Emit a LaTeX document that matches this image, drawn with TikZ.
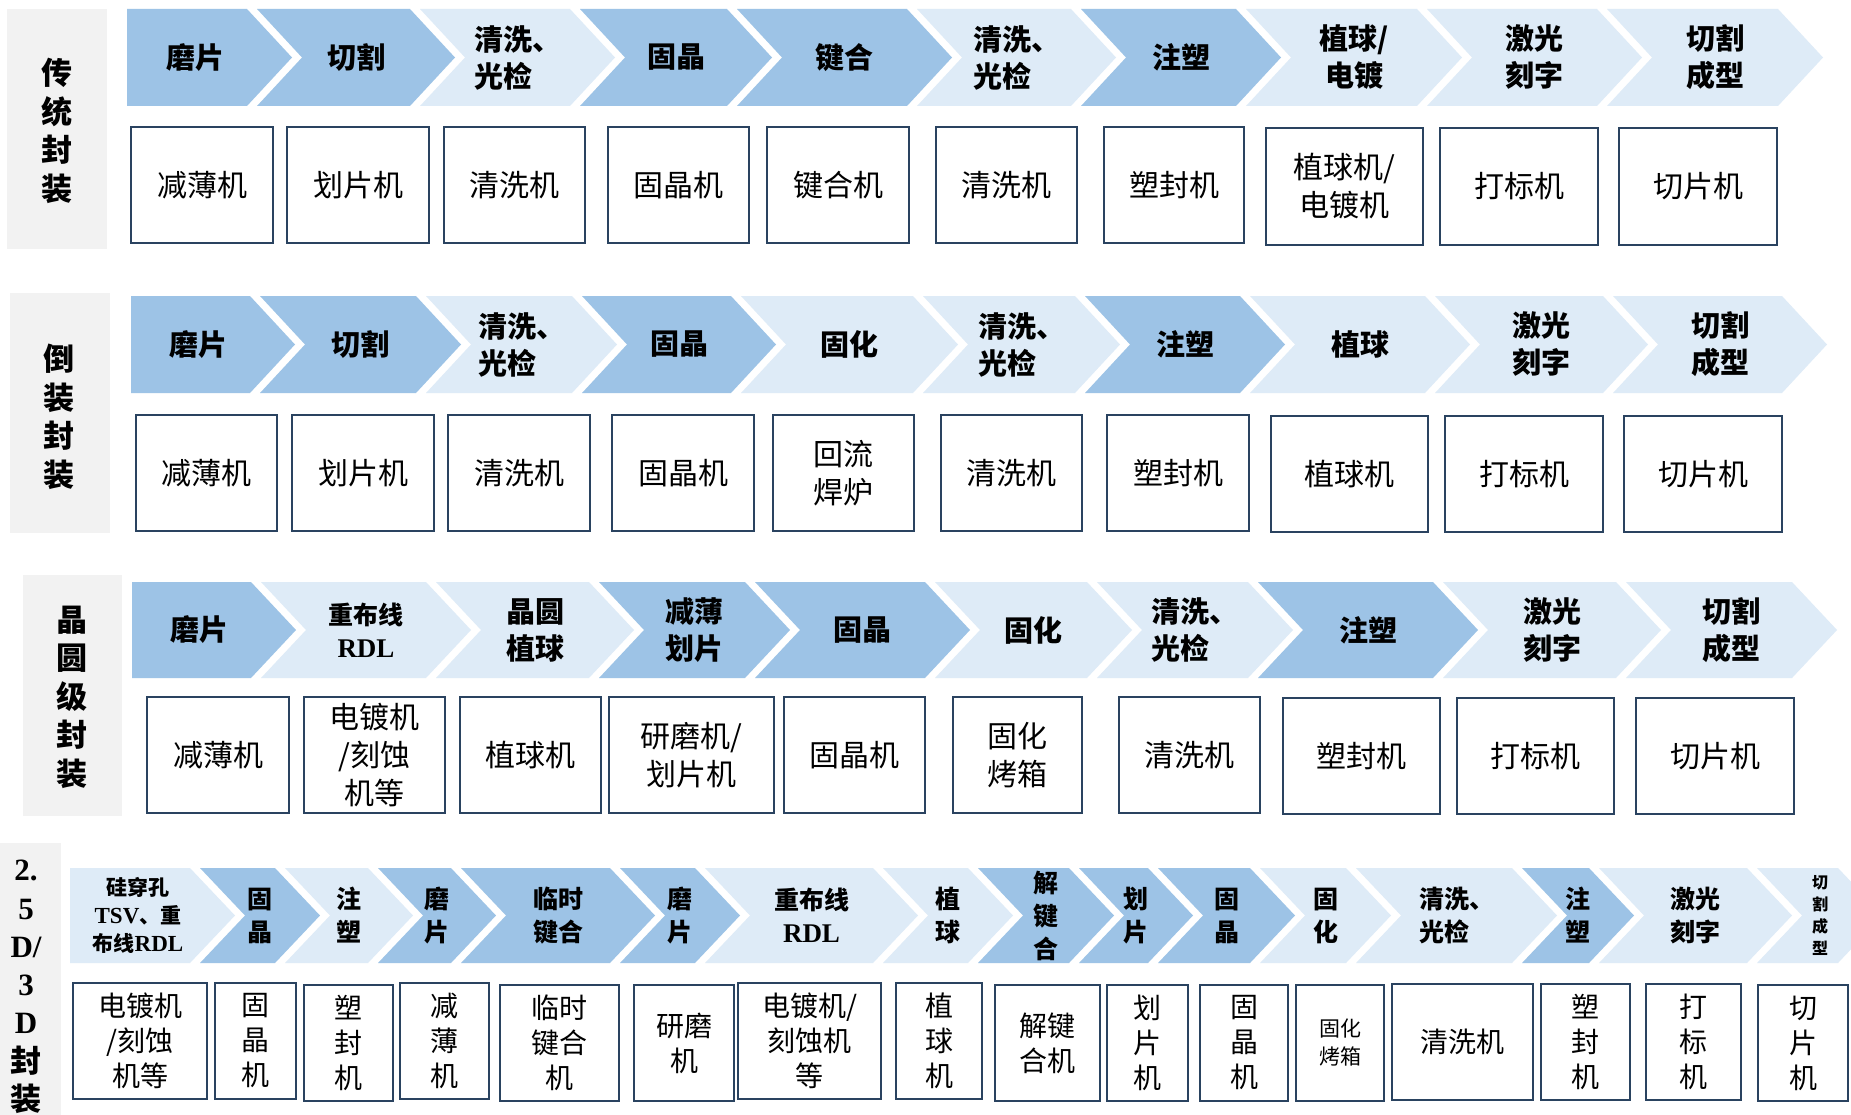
\documentclass[tikz,border=0pt]{standalone}
\usepackage{fontspec}
\setmainfont{Noto Sans CJK SC}
\newfontfamily\lser{Liberation Serif}[UprightFont={* Bold},BoldFont={* Bold}]
\definecolor{dk}{HTML}{9DC3E6}
\definecolor{lt}{HTML}{DEEBF7}
\definecolor{gr}{HTML}{F2F2F2}
\definecolor{bd}{HTML}{2A4360}
\tikzset{
 chtext/.style={font=\bfseries\fontsize{29}{37}\selectfont, align=center, inner sep=0pt},
 chsmall/.style={font=\bfseries\fontsize{25}{33}\selectfont},
 boxst/.style={draw=bd, line width=2.6pt, fill=white, align=center, inner sep=0pt, font=\fontsize{30}{38}\selectfont},
 boxsm/.style={font=\fontsize{28}{35}\selectfont},
 lbl/.style={font=\bfseries\fontsize{31}{38.5}\selectfont, align=center, inner sep=0pt},
 graybox/.style={fill=gr},
}
\newcommand\chdep{45}
% name, opts, L, R, top, bot, color, text
\newcommand\chevn[8]{%
 \fill[#7] (#3,#5) -- (#4,#5) -- ({#4+\chdep},{(#5+#6)/2}) -- (#4,#6) -- (#3,#6) -- ({#3+\chdep},{(#5+#6)/2}) -- cycle;
 \node[chtext,#2] (#1) at ({(#3+\chdep+#4)/2},{(#5+#6)/2}) {#8};}
\newcommand\chevf[8]{%
 \fill[#7] (#3,#5) -- (#4,#5) -- ({#4+\chdep},{(#5+#6)/2}) -- (#4,#6) -- (#3,#6) -- cycle;
 \node[chtext,#2] (#1) at ({(#3+#4)/2+8},{(#5+#6)/2}) {#8};}
% name, opts, x1, x2, y1, y2, text
\newcommand\mybox[7]{%
 \node[boxst, minimum width={#4-#3}, minimum height={#6-#5}, #2] (#1) at ({(#3+#4)/2},{(#5+#6)/2}) {#7};}
\newcommand\rdl{{\lser\fontsize{27}{33}\selectfont RDL}}
\begin{document}
\begin{tikzpicture}[x=1pt,y=-1pt]
\useasboundingbox (0,0) rectangle (1851,1115);
\clip (0,0) rectangle (1851,1115);
\fill[white] (0,0) rectangle (1851,1115);

% ---------------- Row 1 ----------------
\fill[graybox] (7,9) rectangle (107,249);
\node[lbl] (l1) at (57,131) {传\\统\\封\\装};
\chevf{r1c1}{}{127}{247}{9}{106}{dk}{磨片}
\chevn{r1c2}{}{257}{410}{9}{106}{dk}{切割}
\chevn{r1c3}{align=left}{420}{570}{9}{106}{lt}{清洗、\\光检}
\chevn{r1c4}{}{580}{727}{9}{106}{dk}{固晶}
\chevn{r1c5}{}{737}{907}{9}{106}{dk}{键合}
\chevn{r1c6}{align=left}{917}{1071}{9}{106}{lt}{清洗、\\光检}
\chevn{r1c7}{}{1081}{1236}{9}{106}{dk}{注塑}
\chevn{r1c8}{}{1246}{1417}{9}{106}{lt}{植球/\\电镀}
\chevn{r1c9}{}{1427}{1597}{9}{106}{lt}{激光\\刻字}
\chevn{r1c10}{}{1607}{1778}{9}{106}{lt}{切割\\成型}
\mybox{r1b1}{}{131}{273}{127}{243}{减薄机}
\mybox{r1b2}{}{287}{429}{127}{243}{划片机}
\mybox{r1b3}{}{444}{585}{127}{243}{清洗机}
\mybox{r1b4}{}{608}{749}{127}{243}{固晶机}
\mybox{r1b5}{}{767}{909}{127}{243}{键合机}
\mybox{r1b6}{}{936}{1077}{127}{243}{清洗机}
\mybox{r1b7}{}{1104}{1244}{127}{243}{塑封机}
\mybox{r1b8}{}{1266}{1423}{128}{245}{植球机/\\电镀机}
\mybox{r1b9}{}{1440}{1598}{128}{245}{打标机}
\mybox{r1b10}{}{1619}{1777}{128}{245}{切片机}

% ---------------- Row 2 ----------------
\fill[graybox] (10,293) rectangle (110,533);
\node[lbl] (l2) at (59,417) {倒\\装\\封\\装};
\chevf{r2c1}{}{131}{250}{296}{393}{dk}{磨片}
\chevn{r2c2}{}{260}{416}{296}{393}{dk}{切割}
\chevn{r2c3}{align=left}{426}{572}{296}{393}{lt}{清洗、\\光检}
\chevn{r2c4}{}{582}{731}{296}{393}{dk}{固晶}
\chevn{r2c5}{}{741}{913}{296}{393}{lt}{固化}
\chevn{r2c6}{align=left}{923}{1075}{296}{393}{lt}{清洗、\\光检}
\chevn{r2c7}{}{1085}{1240}{296}{393}{dk}{注塑}
\chevn{r2c8}{}{1250}{1425}{296}{393}{lt}{植球}
\chevn{r2c9}{}{1435}{1603}{296}{393}{lt}{激光\\刻字}
\chevn{r2c10}{}{1613}{1782}{296}{393}{lt}{切割\\成型}
\mybox{r2b1}{}{136}{277}{415}{531}{减薄机}
\mybox{r2b2}{}{292}{434}{415}{531}{划片机}
\mybox{r2b3}{}{448}{590}{415}{531}{清洗机}
\mybox{r2b4}{}{612}{754}{415}{531}{固晶机}
\mybox{r2b5}{}{773}{914}{415}{531}{回流\\焊炉}
\mybox{r2b6}{}{941}{1082}{415}{531}{清洗机}
\mybox{r2b7}{}{1107}{1249}{415}{531}{塑封机}
\mybox{r2b8}{}{1271}{1428}{416}{532}{植球机}
\mybox{r2b9}{}{1445}{1603}{416}{532}{打标机}
\mybox{r2b10}{}{1624}{1782}{416}{532}{切片机}

% ---------------- Row 3 ----------------
\fill[graybox] (23,575) rectangle (122,816);
\node[lbl] (l3) at (72,697) {晶\\圆\\级\\封\\装};
\chevf{r3c1}{}{132}{251}{582}{678}{dk}{磨片}
\chevn{r3c2}{chsmall}{261}{426}{582}{678}{lt}{重布线\\\rdl}
\chevn{r3c3}{}{436}{589}{582}{678}{lt}{晶圆\\植球}
\chevn{r3c4}{}{599}{745}{582}{678}{dk}{减薄\\划片}
\chevn{r3c5}{}{755}{925}{582}{678}{dk}{固晶}
\chevn{r3c6}{}{935}{1087}{582}{678}{lt}{固化}
\chevn{r3c7}{align=left}{1097}{1248}{582}{678}{lt}{清洗、\\光检}
\chevn{r3c8}{}{1258}{1433}{582}{678}{dk}{注塑}
\chevn{r3c9}{}{1443}{1616}{582}{678}{lt}{激光\\刻字}
\chevn{r3c10}{}{1626}{1792}{582}{678}{lt}{切割\\成型}
\mybox{r3b1}{}{147}{289}{697}{813}{减薄机}
\mybox{r3b2}{}{304}{445}{697}{813}{电镀机\\/刻蚀\\机等}
\mybox{r3b3}{}{460}{601}{697}{813}{植球机}
\mybox{r3b4}{}{609}{774}{697}{813}{研磨机/\\划片机}
\mybox{r3b5}{}{784}{925}{697}{813}{固晶机}
\mybox{r3b6}{}{953}{1082}{697}{813}{固化\\烤箱}
\mybox{r3b7}{}{1119}{1260}{697}{813}{清洗机}
\mybox{r3b8}{}{1283}{1440}{698}{814}{塑封机}
\mybox{r3b9}{}{1457}{1614}{698}{814}{打标机}
\mybox{r3b10}{}{1636}{1794}{698}{814}{切片机}

% ---------------- Row 4 ----------------
\fill[graybox] (0,843) rectangle (61,1115);
\node[lbl, font=\bfseries\fontsize{31}{38.3}\selectfont] (l4) at (26,987) {{\lser 2.}\\{\lser 5}\\{\lser D/}\\{\lser 3}\\{\lser D}\\封\\装};
\chevf{r4c1}{font=\bfseries\fontsize{21}{28}\selectfont}{70}{190}{868}{963}{lt}{硅穿孔\\{\lser\fontsize{23}{28}\selectfont TSV}、重\\布线{\lser\fontsize{23}{28}\selectfont RDL}}
\chevn{r4c2}{chsmall}{200}{275}{868}{963}{dk}{固\\晶}
\chevn{r4c3}{chsmall}{285}{368}{868}{963}{lt}{注\\塑}
\chevn{r4c4}{chsmall}{378}{451}{868}{963}{dk}{磨\\片}
\chevn{r4c5}{chsmall}{461}{610}{868}{963}{dk}{临时\\键合}
\chevn{r4c6}{chsmall}{620}{695}{868}{963}{dk}{磨\\片}
\chevn{r4c7}{chsmall}{705}{873}{868}{963}{lt}{重布线\\\rdl}
\chevn{r4c8}{chsmall}{883}{968}{868}{963}{lt}{植\\球}
\chevn{r4c9}{chsmall}{978}{1069}{868}{963}{dk}{解\\键\\合}
\chevn{r4c10}{chsmall}{1079}{1148}{868}{963}{dk}{划\\片}
\chevn{r4c11}{chsmall}{1158}{1250}{868}{963}{dk}{固\\晶}
\chevn{r4c12}{chsmall}{1260}{1346}{868}{963}{lt}{固\\化}
\chevn{r4c13}{chsmall,align=left}{1356}{1512}{868}{963}{lt}{清洗、\\光检}
\chevn{r4c14}{chsmall}{1522}{1589}{868}{963}{dk}{注\\塑}
\chevn{r4c15}{chsmall}{1599}{1747}{868}{963}{lt}{激光\\刻字}
\chevn{r4c16}{font=\bfseries\fontsize{16}{22}\selectfont}{1757}{1838}{868}{963}{lt}{切\\割\\成\\型}
\mybox{r4b1}{boxsm}{73}{207}{983}{1099}{电镀机\\/刻蚀\\机等}
\mybox{r4b2}{boxsm}{215}{296}{983}{1099}{固\\晶\\机}
\mybox{r4b3}{boxsm}{304}{393}{985}{1101}{塑\\封\\机}
\mybox{r4b4}{boxsm}{400}{489}{983}{1099}{减\\薄\\机}
\mybox{r4b5}{boxsm}{500}{619}{985}{1101}{临时\\键合\\机}
\mybox{r4b6}{boxsm}{634}{734}{985}{1101}{研磨\\机}
\mybox{r4b7}{boxsm}{738}{881}{983}{1099}{电镀机/\\刻蚀机\\等}
\mybox{r4b8}{boxsm}{896}{982}{983}{1099}{植\\球\\机}
\mybox{r4b9}{boxsm}{995}{1100}{985}{1101}{解键\\合机}
\mybox{r4b10}{boxsm}{1107}{1188}{985}{1101}{划\\片\\机}
\mybox{r4b11}{boxsm}{1200}{1288}{985}{1101}{固\\晶\\机}
\mybox{r4b12}{font=\fontsize{21}{28}\selectfont}{1296}{1384}{985}{1101}{固化\\烤箱}
\mybox{r4b13}{boxsm}{1392}{1533}{984}{1100}{清洗机}
\mybox{r4b14}{boxsm}{1541}{1630}{984}{1100}{塑\\封\\机}
\mybox{r4b15}{boxsm}{1646}{1741}{984}{1100}{打\\标\\机}
\mybox{r4b16}{boxsm}{1758}{1848}{985}{1101}{切\\片\\机}
\end{tikzpicture}
\end{document}
